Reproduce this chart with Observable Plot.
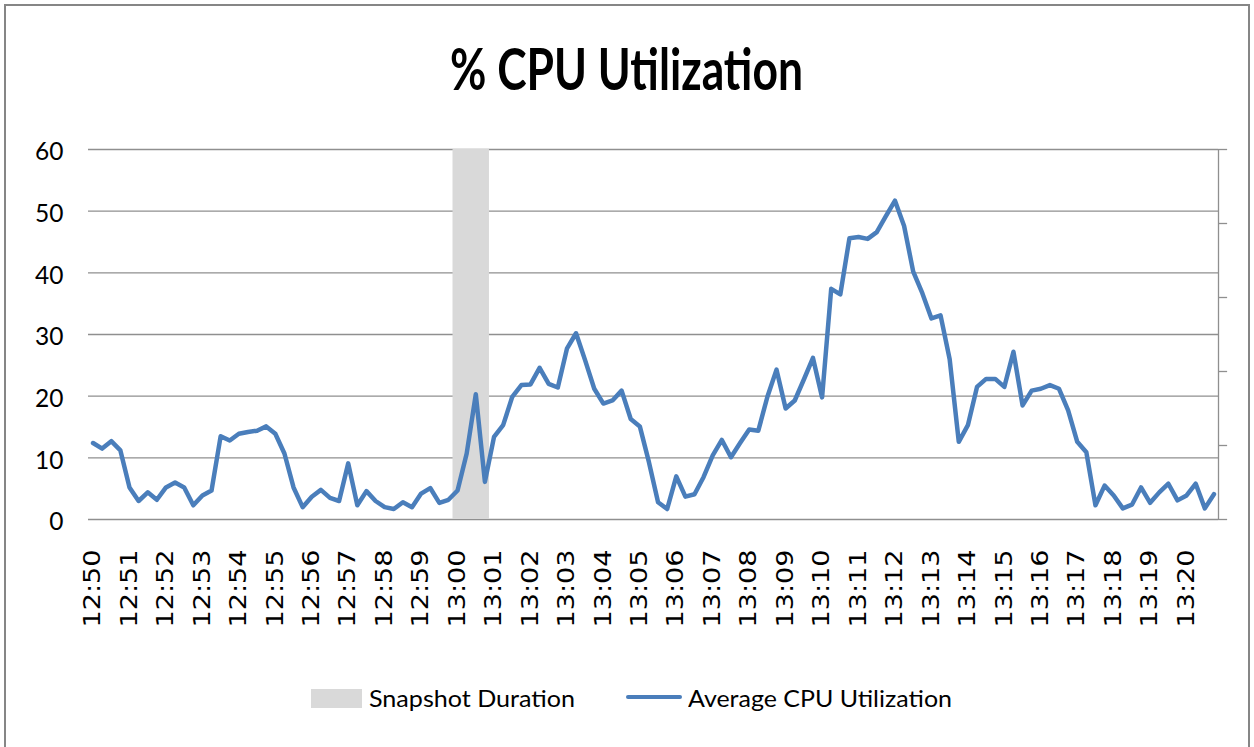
<!DOCTYPE html>
<html>
<head>
<meta charset="utf-8">
<script src="https://cdn.jsdelivr.net/npm/d3@7"></script>
<script src="https://cdn.jsdelivr.net/npm/@observablehq/plot@0.6"></script>
<style>
html, body { margin: 0; padding: 0; background: #fff; overflow: hidden; width: 1254px; height: 747px; }
#frame { position: absolute; left: 4px; top: 4px; width: 1246px; height: 800px; border: 2px solid #868686; box-sizing: border-box; }
#title { position: absolute; top: 39px; left: 0; width: 1254px; text-align: center; font-family: Lato, "Noto Sans", sans-serif; font-weight: bold; font-size: 58px; line-height: 1; white-space: nowrap; color: #000; }
#title span { display: inline-block; transform-origin: center top; }
#chart { position: absolute; left: 0; top: 120px; }
.lg-text { position: absolute; top: 687px; font-family: Lato, "Noto Sans", sans-serif; font-size: 23.5px; line-height: 1; white-space: nowrap; transform-origin: left top; color: #000; }
.sw-area { position: absolute; left: 311px; top: 689px; width: 51px; height: 19px; background: #d9d9d9; }
.sw-line { position: absolute; left: 626px; top: 695px; width: 56px; height: 4px; border-radius: 2px; background: #4a7ebb; }
</style>
</head>
<body>
<div id="frame"></div>
<div id="title"><span>% CPU Utilization</span></div>
<div id="chart"></div>
<div class="sw-area"></div>
<div class="lg-text" id="lg1" style="left:369px">Snapshot Duration</div>
<div class="sw-line"></div>
<div class="lg-text" id="lg2" style="left:688px">Average CPU Utilization</div>
<script>
// ---- data ----
const tickLabels = ["12:50","12:51","12:52","12:53","12:54","12:55","12:56","12:57","12:58","12:59",
  "13:00","13:01","13:02","13:03","13:04","13:05","13:06","13:07","13:08","13:09",
  "13:10","13:11","13:12","13:13","13:14","13:15","13:16","13:17","13:18","13:19","13:20"];
const samplesPerMinute = 4;
const cpuValues = [
  12.4, 11.5, 12.7, 11.2, 5.2, 3.0, 4.4, 3.2, 5.2, 6.0,
  5.2, 2.3, 3.9, 4.7, 13.5, 12.8, 13.9, 14.2, 14.4, 15.1,
  13.9, 10.7, 5.2, 2.0, 3.7, 4.8, 3.5, 3.0, 9.1, 2.3,
  4.6, 3.0, 2.0, 1.7, 2.8, 2.0, 4.2, 5.1, 2.7, 3.2,
  4.7, 10.7, 20.3, 6.1, 13.4, 15.3, 19.9, 21.8, 21.9, 24.6,
  22.0, 21.4, 27.7, 30.2, 25.8, 21.2, 18.8, 19.3, 20.9, 16.3,
  15.1, 9.3, 2.8, 1.7, 7.0, 3.7, 4.1, 6.9, 10.4, 12.9,
  10.1, 12.4, 14.6, 14.4, 19.9, 24.3, 18.0, 19.3, 22.7, 26.2,
  19.8, 37.4, 36.5, 45.6, 45.8, 45.5, 46.6, 49.2, 51.7, 47.6,
  40.2, 36.7, 32.6, 33.1, 26.0, 12.6, 15.3, 21.5, 22.8, 22.8,
  21.5, 27.2, 18.5, 20.9, 21.2, 21.8, 21.2, 17.7, 12.6, 10.9,
  2.3, 5.5, 3.9, 1.8, 2.4, 5.2, 2.7, 4.4, 5.8, 3.1,
  3.9, 5.8, 1.8, 4.1
];
const snapshotStartIndex = [40];
const snapshotEndIndex = [43];
const yTicks = [0, 10, 20, 30, 40, 50, 60];
const yMax = 60;
const secondaryTicks = [0, 0.2, 0.4, 0.6, 0.8, 1.0];

// ---- build ----
const series = cpuValues.map((v, i) => ({i, v}));
const snapshots = snapshotStartIndex.map((s, k) => ({start: s - 0.5, end: snapshotEndIndex[k] + 0.5, top: yMax}));
const n = cpuValues.length;
const xMin = -0.5, xMax = n - 0.5;
const xTickPos = tickLabels.map((_, k) => k * samplesPerMinute);

const svg = Plot.plot({
  width: 1254,
  height: 530,
  marginLeft: 88,
  marginRight: 36,
  marginTop: 29,
  marginBottom: 131,
  style: {fontFamily: "Lato, 'Noto Sans', sans-serif", fontSize: "23px", color: "#000", background: "transparent", overflow: "visible"},
  x: {domain: [xMin, xMax], ticks: xTickPos, tickFormat: i => tickLabels[i / samplesPerMinute], tickRotate: -90, tickSize: 0, tickPadding: 30, label: null},
  y: {domain: [0, yMax], ticks: yTicks, tickSize: 0, tickPadding: 25, label: null},
  marks: [
    Plot.ruleY(yTicks, {x1: xMin, x2: xMax, stroke: "#8f8f8f", strokeWidth: 1.3}),
    Plot.rect(snapshots, {x1: "start", x2: "end", y1: 0, y2: "top", fill: "#d9d9d9"}),
    Plot.ruleX([xMax], {y1: 0, y2: yMax, stroke: "#8f8f8f", strokeWidth: 1.3}),
    Plot.ruleY(secondaryTicks, {y: d => d * yMax, x1: xMax, x2: xMax + 1, stroke: "#8f8f8f", strokeWidth: 1.3}),
    Plot.line(series, {x: "i", y: "v", stroke: "#4a7ebb", strokeWidth: 4.5, strokeLinejoin: "round", strokeLinecap: "round"})
  ]
});
document.getElementById("chart").appendChild(svg);

// force line thickness
d3.select(svg).selectAll('g[aria-label="line"], g[aria-label="line"] path')
  .style("stroke-width", "4.5px");

// axis label styling
d3.select(svg).selectAll('g[aria-label^="x-axis"] text')
  .style("font-family", "'DejaVu Sans', Verdana, sans-serif")
  .style("font-size", "22.5px")
  .attr("textLength", 78)
  .attr("lengthAdjust", "spacingAndGlyphs");
d3.select(svg).selectAll('g[aria-label^="y-axis"] text')
  .style("font-family", "Lato, 'Noto Sans', sans-serif")
  .style("font-size", "24.5px");
d3.select(svg).selectAll('g[aria-label^="y-axis"]').attr("transform", function() {
  const t = this.getAttribute("transform") || "";
  return t + " translate(0,3)";
});

// fit title & legend text widths
function fitWidth(el, target, origin) {
  const w = el.getBoundingClientRect().width;
  el.style.transformOrigin = origin;
  el.style.transform = `scaleX(${target / w})`;
}
fitWidth(document.querySelector("#title span"), 353, "center top");
fitWidth(document.getElementById("lg1"), 206, "left top");
fitWidth(document.getElementById("lg2"), 264, "left top");
</script>
</body>
</html>
